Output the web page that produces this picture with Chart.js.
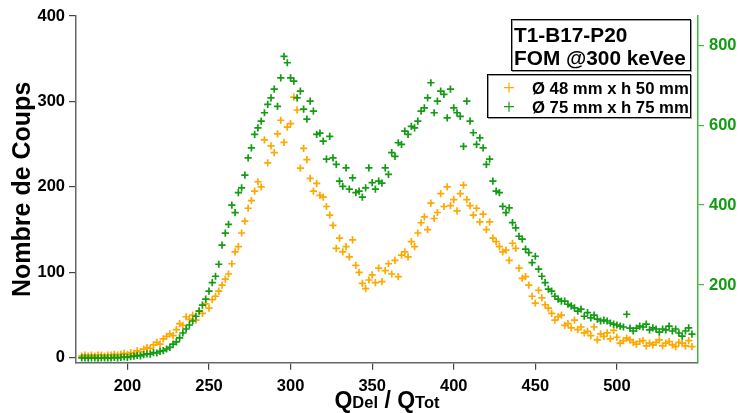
<!DOCTYPE html>
<html>
<head>
<meta charset="utf-8">
<script src="https://cdn.jsdelivr.net/npm/chart.js@4"></script>
<style>
  html, body { margin: 0; padding: 0; background: #fff; }
  #wrap { width: 738px; height: 413px; }
</style>
</head>
<body>
<div id="wrap"><canvas id="chart" width="738" height="413"></canvas></div>
<script>
// Q_Del / Q_Tot bins
const qRatio = [
  172,174,176,178,180,182,184,186,188,190,
  192,194,196,198,200,202,204,206,208,210,
  212,214,216,218,220,222,224,226,228,230,
  232,234,236,238,240,242,244,246,248,250,
  252,254,256,258,260,262,264,266,268,270,
  272,274,276,278,280,282,284,286,288,290,
  292,294,296,298,300,302,304,306,308,310,
  312,314,316,318,320,322,324,326,328,330,
  332,334,336,338,340,342,344,346,348,350,
  352,354,356,358,360,362,364,366,368,370,
  372,374,376,378,380,382,384,386,388,390,
  392,394,396,398,400,402,404,406,408,410,
  412,414,416,418,420,422,424,426,428,430,
  432,434,436,438,440,442,444,446,448,450,
  452,454,456,458,460,462,464,466,468,470,
  472,474,476,478,480,482,484,486,488,490,
  492,494,496,498,500,502,504,506,508,510,
  512,514,516,518,520,522,524,526,528,530,
  532,534,536,538,540,542,544,546
];

// Ø 48 mm x h 50 mm (left axis)
const counts48 = [
  2,3,2,3,2,3,3,2,3,3,
  4,3,4,5,4,6,5,8,7,10,
  12,11,15,18,16,22,25,28,26,33,
  40,38,48,45,50,44,55,52,63,58,
  68,72,78,85,92,98,110,124,130,146,
  160,175,184,195,206,200,255,228,248,240,
  262,278,252,270,274,305,290,222,245,232,
  210,195,204,190,188,177,167,155,128,140,
  124,130,118,138,108,100,87,81,91,97,
  88,105,89,102,110,98,114,95,120,124,
  118,136,130,146,158,165,150,181,163,170,
  192,177,200,178,185,172,192,202,185,178,
  167,175,159,168,150,159,140,136,130,124,
  126,114,134,128,105,93,95,85,72,64,
  79,70,62,58,52,44,48,50,38,40,
  35,44,33,36,29,31,26,36,21,28,
  25,29,22,32,24,17,20,23,21,18,
  16,19,20,14,17,15,18,21,14,17,
  19,15,13,18,17,14,20,13
];

// Ø 75 mm x h 75 mm (right axis)
const counts75 = [
  18,18,17,18,18,17,18,18,18,18,
  19,18,19,20,19,21,22,24,23,26,
  28,27,31,30,34,36,40,44,52,58,
  68,80,90,100,110,122,135,150,165,185,
  206,222,252,300,330,352,400,381,431,443,
  475,518,543,577,593,610,631,652,668,690,
  647,718,772,756,718,710,668,685,640,615,
  660,635,577,580,560,515,572,518,502,460,
  447,493,440,468,431,435,420,443,493,456,
  440,460,455,493,477,531,522,556,552,585,
  577,597,593,610,635,643,668,706,631,660,
  685,677,618,690,643,631,622,547,660,610,
  581,552,568,543,502,515,460,435,431,397,
  381,393,356,343,322,315,290,281,256,272,
  240,222,206,190,185,172,165,160,160,152,
  148,143,135,140,122,131,118,125,115,110,
  112,110,105,102,100,97,95,127,92,85,
  92,97,95,102,88,93,90,82,90,88,
  97,85,90,80,72,85,93,77
];

const xTicks = [200, 250, 300, 350, 400, 450, 500];
const leftTicks = [0, 100, 200, 300, 400];
const rightTicks = [200, 400, 600, 800];
const seriesLabels = ['Ø 48 mm x h 50 mm', 'Ø 75 mm x h 75 mm'];
const boxTitle = ['T1-B17-P20', 'FOM @300 keVee'];

const ORANGE = '#ffa800';
const GREEN = '#119c11';
const FONT = "'Liberation Sans', Arial, Helvetica, sans-serif";

const toPoints = ys => qRatio.map((x, i) => ({ x: x, y: ys[i] }));

// x title with subscripts, info box and legend
const overlay = {
  id: 'overlay',
  afterDraw(chart) {
    const ctx = chart.ctx;
    const area = chart.chartArea;
    ctx.save();
    ctx.fillStyle = '#000';
    ctx.textBaseline = 'alphabetic';

    const parts = [['Q', 23], ['Del', 16.5], [' / ', 23], ['Q', 23], ['Tot', 16.5]];
    let total = 0;
    parts.forEach(p => {
      ctx.font = 'bold ' + p[1] + 'px ' + FONT;
      total += ctx.measureText(p[0]).width;
    });
    let x = (area.left + area.right) / 2 - total / 2;
    parts.forEach(p => {
      ctx.font = 'bold ' + p[1] + 'px ' + FONT;
      ctx.fillText(p[0], x, 408);
      x += ctx.measureText(p[0]).width;
    });

    // info box
    const drawBox = (l, t, r, b) => {
      ctx.fillStyle = '#fff';
      ctx.fillRect(l, t, r - l, b - t);
      ctx.strokeStyle = '#999';
      ctx.lineWidth = 1;
      ctx.strokeRect(l + 0.5, t + 0.5, r - l, b - t);
      ctx.strokeStyle = '#000';
      ctx.strokeRect(l - 0.5, t - 0.5, r - l, b - t);
    };
    drawBox(512, 20, 691, 71);
    ctx.fillStyle = '#000';
    ctx.font = 'bold 20.8px ' + FONT;
    ctx.fillText(boxTitle[0], 514, 42);
    ctx.fillText(boxTitle[1], 514, 65);

    // legend
    drawBox(488, 75, 691, 118);
    const colors = [ORANGE, GREEN];
    const rows = [87.7, 106.7];
    ctx.font = 'bold 16.7px ' + FONT;
    rows.forEach((cy, i) => {
      ctx.strokeStyle = colors[i];
      ctx.lineWidth = 1.2;
      ctx.beginPath();
      ctx.moveTo(504, cy); ctx.lineTo(514, cy);
      ctx.moveTo(509, cy - 5); ctx.lineTo(509, cy + 5);
      ctx.stroke();
      ctx.fillStyle = '#000';
      ctx.fillText(seriesLabels[i], 532, cy + 6);
    });
    ctx.restore();
  }
};

const keepTicks = list => scale => {
  scale.ticks = list.map(v => ({ value: v }));
};

new Chart(document.getElementById('chart'), {
  type: 'scatter',
  data: {
    datasets: [{
      label: seriesLabels[1],
      data: toPoints(counts75),
      yAxisID: 'y2',
      pointStyle: 'cross',
      radius: 3.6,
      borderWidth: 1.7,
      borderColor: GREEN,
      backgroundColor: GREEN,
      order: 0
    }, {
      label: seriesLabels[0],
      data: toPoints(counts48),
      yAxisID: 'y',
      pointStyle: 'cross',
      radius: 3.6,
      borderWidth: 1.7,
      borderColor: ORANGE,
      backgroundColor: ORANGE,
      order: 1
    }]
  },
  options: {
    responsive: false,
    animation: false,
    devicePixelRatio: 1,
    layout: { padding: { top: 16, left: 0, right: 0, bottom: 0 } },
    plugins: {
      legend: { display: false },
      tooltip: { enabled: false }
    },
    scales: {
      x: {
        type: 'linear',
        position: 'bottom',
        min: 168.5,
        max: 549.7,
        afterBuildTicks: keepTicks(xTicks),
        afterFit: s => { s.height = 50.3; },
        grid: { drawOnChartArea: false, tickLength: 7, color: '#444', lineWidth: 1.2 },
        border: { display: true, color: '#666', width: 1.5 },
        ticks: { color: '#000', padding: 7, maxRotation: 0, font: { family: FONT, size: 16.5, weight: 'bold' } }
      },
      y: {
        position: 'left',
        min: -5.8,
        max: 400,
        afterBuildTicks: keepTicks(leftTicks),
        afterFit: s => { s.width = 76; },
        grid: { drawOnChartArea: false, tickLength: 7, color: '#444', lineWidth: 1.2 },
        border: { display: true, color: '#666', width: 1.5 },
        ticks: { color: '#000', padding: 4, font: { family: FONT, size: 16.5, weight: 'bold' } },
        title: {
          display: true,
          text: 'Nombre de Coups',
          color: '#000',
          padding: { top: 8, bottom: 0 },
          font: { family: FONT, size: 25, weight: 'bold' }
        }
      },
      y2: {
        position: 'right',
        min: 5.75,
        max: 873,
        afterBuildTicks: keepTicks(rightTicks),
        afterFit: s => { s.width = 40; },
        grid: { drawOnChartArea: false, tickLength: 6, color: '#3cb83c', lineWidth: 1.2 },
        border: { display: true, color: '#3cb83c', width: 1.5 },
        ticks: { color: GREEN, padding: 5, font: { family: FONT, size: 16.5, weight: 'bold' } }
      }
    }
  },
  plugins: [overlay]
});
</script>
</body>
</html>
